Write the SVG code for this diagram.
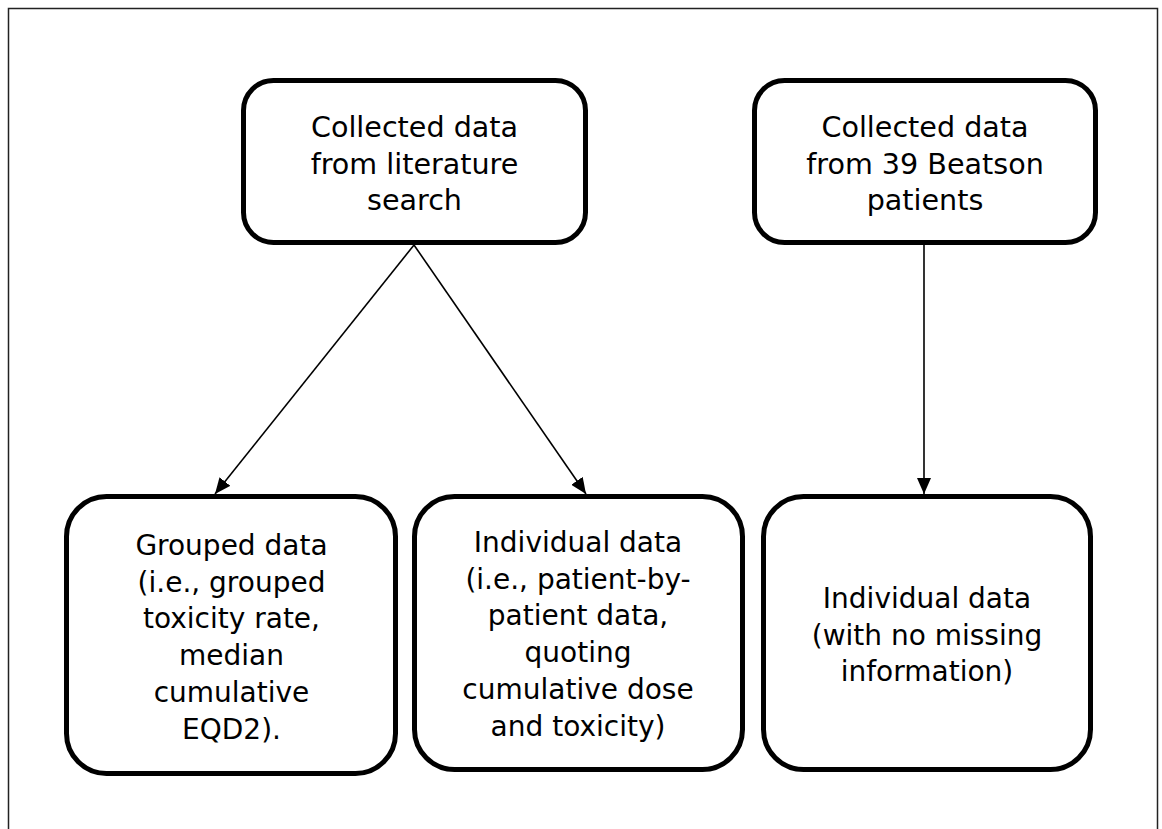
<svg xmlns="http://www.w3.org/2000/svg" width="1162" height="829" viewBox="0 0 1162 829">
<style>
.box{fill:#fff;stroke:#000;stroke-width:5}
.t{font-family:"DejaVu Sans",Verdana,sans-serif;font-size:28px;fill:#000;text-anchor:middle}
.tt{font-size:28.6px}
.c{stroke:#000;stroke-width:1.6;fill:none}
</style>
<defs>
<marker id="ah" markerUnits="userSpaceOnUse" markerWidth="16" markerHeight="14" viewBox="0 0 16 14" refX="16" refY="7" orient="auto">
<path d="M0,0 L16,7 L0,14 Z" fill="#000"/>
</marker>
</defs>
<rect width="1162" height="829" fill="#fff"/>
<rect x="8.5" y="8.5" width="1149" height="840" fill="none" stroke="#222" stroke-width="1.5"/>
<g id="connectors">
<line class="c" x1="414" y1="245" x2="215" y2="494" marker-end="url(#ah)"/>
<line class="c" x1="414" y1="245" x2="586" y2="494" marker-end="url(#ah)"/>
<line class="c" x1="924" y1="245" x2="924" y2="494" marker-end="url(#ah)"/>
</g>
<g id="lit">
<rect class="box" x="243.5" y="80.5" width="342" height="162" rx="30"/>
<text class="t tt" x="414.5" y="137">Collected data</text>
<text class="t tt" x="414.5" y="173.5">from literature</text>
<text class="t tt" x="414.5" y="210">search</text>
</g>
<g id="beatson">
<rect class="box" x="754.5" y="80.5" width="341" height="162" rx="30"/>
<text class="t tt" x="925" y="137">Collected data</text>
<text class="t tt" x="925" y="173.5">from 39 Beatson</text>
<text class="t tt" x="925" y="210">patients</text>
</g>
<g id="grouped">
<rect class="box" x="66.5" y="496.5" width="329" height="277" rx="40"/>
<text class="t" x="231.5" y="555">Grouped data</text>
<text class="t" x="231.5" y="591.7">(i.e., grouped</text>
<text class="t" x="231.5" y="628.4">toxicity rate,</text>
<text class="t" x="231.5" y="665.1">median</text>
<text class="t" x="231.5" y="701.8">cumulative</text>
<text class="t" x="231.5" y="738.5">EQD2).</text>
</g>
<g id="individual-lit">
<rect class="box" x="414.5" y="496.5" width="328" height="273" rx="40"/>
<text class="t" x="578" y="552">Individual data</text>
<text class="t" x="578" y="588.7">(i.e., patient-by-</text>
<text class="t" x="578" y="625.4">patient data,</text>
<text class="t" x="578" y="662.1">quoting</text>
<text class="t" x="578" y="698.8">cumulative dose</text>
<text class="t" x="578" y="735.5">and toxicity)</text>
</g>
<g id="individual-beatson">
<rect class="box" x="763.5" y="496.5" width="327" height="273" rx="40"/>
<text class="t" x="927" y="608">Individual data</text>
<text class="t" x="927" y="644.7">(with no missing</text>
<text class="t" x="927" y="681.4">information)</text>
</g>
</svg>
